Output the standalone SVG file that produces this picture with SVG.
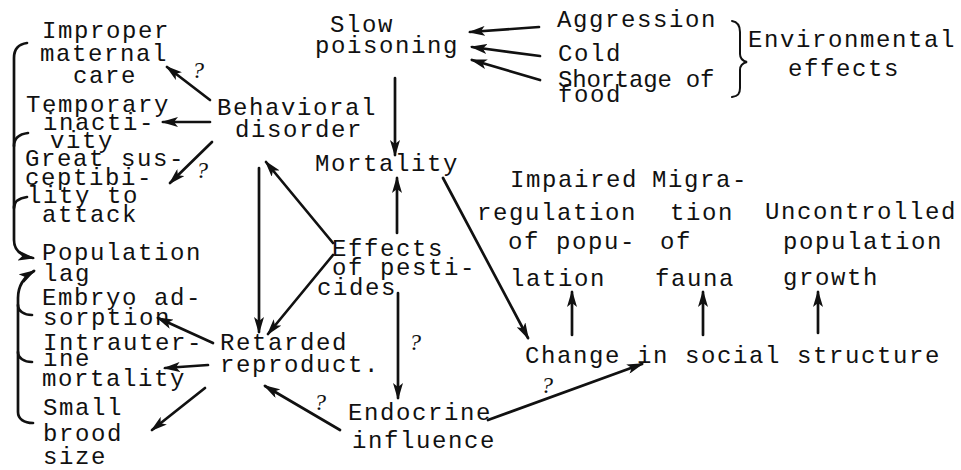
<svg xmlns="http://www.w3.org/2000/svg" width="961" height="470" viewBox="0 0 961 470">
<style>
  text { font-family: "Liberation Mono", "DejaVu Sans Mono", monospace; font-size: 24px; letter-spacing: 1.6px; fill: #111; }
  text.q { font-family: "Liberation Serif", serif; font-style: italic; font-size: 24px; letter-spacing: 0; }
  .c { fill: none; stroke: #111; stroke-width: 2.7; stroke-linecap: round; }
  .a { marker-end: url(#ah); }
</style>
<defs>
  <marker id="ah" markerUnits="userSpaceOnUse" markerWidth="17" markerHeight="10" refX="15" refY="5" orient="auto" viewBox="0 0 17 10">
    <path d="M0,0 L17,5 L0,10 L4,5 z" fill="#111"/>
  </marker>
</defs>
<rect width="961" height="470" fill="#fff"/>

<g id="connectors">
  <path class="c a" d="M539,27 L470,32"/>
  <path class="c a" d="M540,56 L472,47"/>
  <path class="c a" d="M540,80 L472,60"/>
  <path class="c a" d="M395,78 L395,155"/>
  <path class="c a" d="M210,100 L167,67"/>
  <path class="c a" d="M210,122 L163,122"/>
  <path class="c a" d="M212,142 L170,183"/>
  <path class="c a" d="M259,168 L259,332"/>
  <path class="c a" d="M333,243 L266,162"/>
  <path class="c a" d="M333,255 L268,334"/>
  <path class="c a" d="M397,233 L397,178"/>
  <path class="c a" d="M398,293 L398,398"/>
  <path class="c a" d="M340,430 L265,386"/>
  <path class="c a" d="M213,343 L158,318"/>
  <path class="c a" d="M208,365 L165,368"/>
  <path class="c a" d="M205,388 L152,430"/>
  <path class="c a" d="M443,178 L528,338"/>
  <path class="c a" d="M572,335 L572,292"/>
  <path class="c a" d="M703,335 L703,292"/>
  <path class="c a" d="M818,333 L818,292"/>
  <path class="c a" d="M488,420 L642,364"/>
  <!-- left brackets -->
  <path class="c a" d="M27,43 C19,44 14,49 14,58 L14,240 C14,250 21,256 33,258"/>
  <path class="c" d="M14,146 C14,138 20,134 28,133"/>
  <path class="c" d="M14,208 C14,201 20,198 27,197"/>
  <path class="c a" d="M33,423 C24,423 18,419 18,412 L18,298 C18,285 24,277 34,271"/>
  <path class="c" d="M18,305 C18,311 24,315 32,315"/>
  <path class="c" d="M18,352 C18,358 24,362 32,362"/>
  <!-- environmental brace -->
  <path class="c" d="M732,21 C738,22 740,26 740,32 L740,54 C740,59 743,61 747,62 C743,63 740,65 740,70 L740,88 C740,94 738,96 732,97" style="stroke-width:2"/>
  <text class="q" x="192" y="78">?</text>
  <text class="q" x="196" y="178">?</text>
  <text class="q" x="409" y="350">?</text>
  <text class="q" x="314" y="410">?</text>
  <text class="q" x="541" y="393">?</text>
</g>

<g id="improper"><text x="42" y="38">Improper</text><text x="40" y="61">maternal</text><text x="73" y="83">care</text></g>
<g id="temporary"><text x="26" y="112">Temporary</text><text x="43" y="130">inacti-</text><text x="50" y="148">vity</text></g>
<g id="susceptibility"><text x="25" y="166">Great sus-</text><text x="25" y="185">ceptibi-</text><text x="27" y="203">lity to</text><text x="42" y="222">attack</text></g>
<g id="poplag"><text x="42" y="260">Population</text><text x="43" y="281">lag</text></g>
<g id="embryo"><text x="42" y="305">Embryo ad-</text><text x="43" y="325">sorption</text></g>
<g id="intrauterine"><text x="43" y="350">Intrauter-</text><text x="43" y="366">ine</text><text x="42" y="386">mortality</text></g>
<g id="brood"><text x="43" y="415">Small</text><text x="43" y="441">brood</text><text x="43" y="464">size</text></g>

<g id="slow"><text x="330" y="32">Slow</text><text x="315" y="53">poisoning</text></g>
<g id="behavioral"><text x="217" y="115">Behavioral</text><text x="235" y="137">disorder</text></g>
<g id="mortality"><text x="315" y="171">Mortality</text></g>
<g id="effects"><text x="332" y="256">Effects</text><text x="332" y="275">of pesti-</text><text x="317" y="295">cides</text></g>
<g id="retarded"><text x="220" y="350">Retarded</text><text x="220" y="372">reproduct.</text></g>
<g id="endocrine"><text x="348" y="420">Endocrine</text><text x="352" y="448">influence</text></g>

<g id="aggression"><text x="557" y="27">Aggression</text></g>
<g id="cold"><text x="558" y="61">Cold</text></g>
<g id="shortage"><text x="558" y="87" textLength="158" lengthAdjust="spacing">Shortage of</text><text x="558" y="102">food</text></g>
<g id="environmental"><text x="748" y="47">Environmental</text><text x="788" y="76">effects</text></g>

<g id="impaired"><text x="510" y="187">Impaired</text><text x="477" y="220">regulation</text><text x="508" y="249">of popu-</text><text x="510" y="286">lation</text></g>
<g id="migration"><text x="652" y="187">Migra-</text><text x="670" y="220">tion</text><text x="660" y="249">of</text><text x="655" y="286">fauna</text></g>
<g id="uncontrolled"><text x="765" y="219">Uncontrolled</text><text x="783" y="249">population</text><text x="783" y="285">growth</text></g>
<g id="social"><text x="525" y="363">Change in social structure</text></g>
</svg>
